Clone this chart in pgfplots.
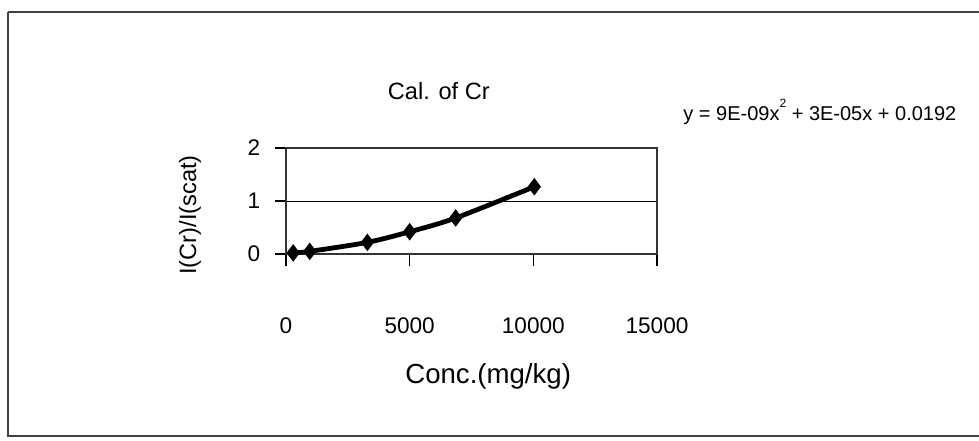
\documentclass[border=0pt]{standalone}
\usepackage{fontspec}
\setmainfont{Liberation Sans}
\usepackage{pgfplots}
\pgfplotsset{compat=1.18}
\begin{document}
\begin{tikzpicture}
\useasboundingbox (0pt,0pt) rectangle (489.5pt,-220pt);
\draw[line width=1pt,black!75] (4pt,-6pt) -- (497pt,-6pt);
\draw[line width=1pt,black!75] (4pt,-6pt) -- (4pt,-218pt) -- (497pt,-218pt);
\begin{axis}[
  at={(143pt,-127pt)}, anchor=south west,
  scale only axis, width=185.5pt, height=53pt,
  xmin=0, xmax=15000, ymin=0, ymax=2,
  xtick={0,5000,10000,15000}, ytick={0,1,2},
  scaled x ticks=false,
  /pgf/number format/assume math mode=true,
  /pgf/number format/1000 sep={},
  tick align=outside, major tick length=5.75pt,
  tick style={black, line width=0.6pt},
  xtick pos=bottom, ytick pos=left,
  ymajorgrids, grid style={black, line width=0.5pt},
  axis line style={black!80, line width=0.6pt},
  ticklabel style={font=\fontsize{11.3}{13}\selectfont},
  xticklabel style={anchor=center, yshift=-30pt},
  yticklabel style={anchor=east, inner sep=0pt, xshift=-7pt},
  title={Cal. of Cr},
  title style={at={(axis description cs:0.412,1.425)}, anchor=center, font=\fontsize{11.8}{13}\selectfont},
  xlabel={Conc.(mg/kg)},
  xlabel style={at={(axis description cs:0.545,-1.151)}, anchor=center, font=\fontsize{13.8}{15}\selectfont},
  ylabel={I(Cr)/I(scat)},
  ylabel style={at={(axis description cs:-0.259,0.368)}, anchor=center, rotate=0, font=\fontsize{11.8}{13}\selectfont},
  clip=false,
]
\addplot[black, line width=2.4pt, smooth, mark=diamond*, mark size=4pt, mark options={fill=black, line width=0.5pt}]
  coordinates {(290,0.02) (960,0.05) (3290,0.22) (5000,0.42) (6860,0.68) (10040,1.27)};
\node[font=\fontsize{10}{12}\selectfont, anchor=center] at (axis description cs:1.439,1.34)
  {y = 9E-09x\raisebox{0.65em}{\fontsize{6}{6}\selectfont 2} + 3E-05x + 0.0192};
\end{axis}
\end{tikzpicture}
\end{document}
